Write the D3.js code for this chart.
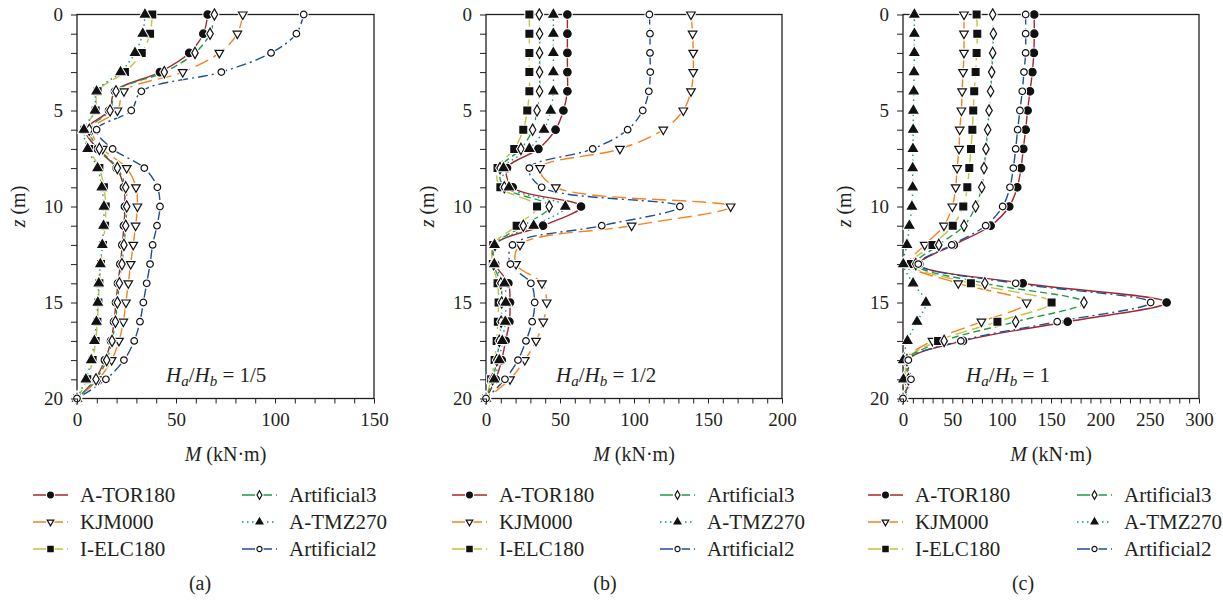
<!DOCTYPE html>
<html>
<head>
<meta charset="utf-8">
<script src="https://cdn.jsdelivr.net/npm/d3@7"></script>
<style>
  body { margin: 0; background: #fff; }
  svg text { font-family: "Liberation Serif", "DejaVu Serif", serif; fill: #231f20; }
</style>
</head>
<body>
<svg id="chart" width="1223" height="603" font-family="Liberation Serif"></svg>
<script>
// depth of each marker (m)
const depth = [0, 1, 2, 3, 4, 5, 6, 7, 8, 9, 10, 11, 12, 13, 14, 15, 16, 17, 18, 19, 20];

const seriesNames = ['A-TOR180', 'KJM000', 'I-ELC180', 'Artificial3', 'A-TMZ270', 'Artificial2'];

// panel (a) Ha/Hb = 1/5, bending moment M (kN·m)
const aTOR180_a = [66, 63.8, 56.7, 41.9, 19.2, 16.2, 4.5, 10.4, 20, 23.7, 24.2, 23.7, 22.9, 21.9, 20.7, 19.7, 18.7, 17.2, 14.1, 9.1, 0];
const kjm000_a = [83.7, 81, 71.9, 53.4, 23.7, 20.4, 7.4, 13, 25.1, 29.8, 30.5, 29.6, 28.4, 27.1, 25.9, 24.7, 23.4, 21.2, 17.5, 10.8, 0];
const iELC180_a = [38, 36.9, 32.7, 24.2, 10.4, 9.4, 3.7, 6.1, 11.3, 13.6, 14.5, 14.2, 13.1, 12.1, 11.3, 10.8, 10.3, 9.4, 7.9, 5.2, 0];
const artificial3_a = [69.4, 67.2, 59.6, 44.1, 19.7, 16.7, 6.2, 11.3, 20.4, 24.6, 25.1, 24.6, 23.7, 22.7, 21.4, 20.4, 19.4, 17.7, 15, 9.6, 0];
const aTMZ270_a = [34.3, 33.2, 29.3, 22, 9.9, 9.1, 3.5, 5.4, 10.4, 12.5, 13.6, 13.4, 12.8, 11.8, 11, 10.5, 9.8, 8.8, 7.2, 4.5, 0];
const artificial2_a = [114.5, 110.8, 98, 72.9, 32.5, 27.4, 9.9, 18, 34, 40.6, 41.9, 40.4, 38.2, 36.9, 35.2, 33.5, 31.8, 28.9, 23.7, 14.6, 0];

// panel (b) Ha/Hb = 1/2
const aTOR180_b = [55, 55, 55, 55, 55, 52.3, 47, 35.4, 14.2, 18, 64.2, 38.5, 5.8, 6.2, 15.1, 16.2, 15.8, 13.2, 10.6, 6.5, 0];
const kjm000_b = [138.5, 139.6, 140, 140, 138.5, 133.3, 119.8, 90.5, 36.5, 47.2, 165.3, 98.4, 23, 20.3, 37.8, 41, 38.7, 33.8, 26.2, 16.2, 0];
const iELC180_b = [29.3, 29.3, 29.3, 29.3, 29.3, 27.9, 25.2, 19.1, 7.8, 9.7, 34.5, 20.7, 4.9, 4.6, 7.8, 8.5, 8, 7.2, 5.8, 3.5, 0];
const artificial3_b = [36, 36.2, 36.2, 36.2, 36.2, 34.5, 31.5, 23.6, 9.5, 12.4, 42.7, 25.2, 6.1, 5.2, 10, 10.6, 10.2, 9, 7.3, 4.5, 0];
const aTMZ270_b = [45.5, 45.5, 45.5, 45.5, 45.5, 43.7, 39.2, 29.3, 11.8, 15.5, 53.6, 32.2, 5.8, 5.6, 12.5, 13.3, 13, 11, 9, 5.5, 0];
const artificial2_b = [110.4, 110.8, 110.8, 111, 110, 105.9, 95.7, 72.1, 29.3, 37.6, 131, 78.2, 17.9, 16.5, 30.3, 32.9, 31.2, 27, 21.6, 12.8, 0];

// panel (c) Ha/Hb = 1
const aTOR180_c = [133, 133, 132.6, 131.1, 128.7, 126.3, 124.3, 121.9, 119.6, 115.8, 107.7, 88.8, 51.5, 16.5, 121.3, 267.2, 166.9, 60.8, 5.4, 6.5, 0];
const kjm000_c = [61.8, 61.8, 61.8, 60.9, 59.9, 59.2, 57.5, 56.8, 54.8, 53.4, 50, 41.5, 22, 6, 56, 125.3, 79.5, 29.9, 2, 2.7, 0];
const iELC180_c = [74.6, 75.3, 74.6, 73.6, 72.2, 71.2, 70.3, 68.9, 67.2, 65.2, 61.1, 50.4, 29.9, 8, 68.8, 150.6, 95.7, 35.6, 3, 4, 0];
const artificial3_c = [90.9, 91.6, 90.9, 89.9, 88.8, 87.2, 85.8, 84.1, 82.1, 79.8, 73.6, 61.8, 36.3, 13, 83, 183.4, 114.2, 41.7, 4, 5.5, 0];
const aTMZ270_c = [11.5, 11.5, 11.5, 11.2, 10.9, 10.5, 10.3, 10.1, 9.8, 9.8, 9, 6.4, 4, 0.3, 10.2, 23.2, 14.2, 4.5, 0.3, 0.5, 0];
const artificial2_c = [124.3, 124.3, 124.3, 122.6, 120.9, 118.5, 116.2, 114.2, 111.8, 108.4, 101, 83.8, 49.4, 15.5, 114.2, 251, 156.3, 58.6, 5.4, 8.1, 0];

const xMax = [150, 200, 300];
const xMajor = [[0, 50, 100, 150], [0, 50, 100, 150, 200], [0, 50, 100, 150, 200, 250, 300]];
const zMajor = [0, 5, 10, 15, 20];
const ratioLabels = ['1/5', '1/2', '1'];
const captions = ['(a)', '(b)', '(c)'];

const panelData = [
  [aTOR180_a, kjm000_a, iELC180_a, artificial3_a, aTMZ270_a, artificial2_a],
  [aTOR180_b, kjm000_b, iELC180_b, artificial3_b, aTMZ270_b, artificial2_b],
  [aTOR180_c, kjm000_c, iELC180_c, artificial3_c, aTMZ270_c, artificial2_c]
];

const FONT = '"Liberation Serif", "DejaVu Serif", serif';

// look of each series
const styles = {
  'A-TOR180':    { color: '#a1282d', dash: null,         symbol: d3.symbolCircle,   size: 44, fill: '#111', rot: 0 },
  'KJM000':      { color: '#f5821f', dash: '14,6',       symbol: d3.symbolTriangle, size: 32, fill: '#fff', rot: 180 },
  'I-ELC180':    { color: '#c3c43c', dash: '12,5',       symbol: d3.symbolSquare,   size: 46, fill: '#111', rot: 0 },
  'Artificial3': { color: '#1e9a4b', dash: '7,4',        symbol: d3.symbolDiamond,  size: 36, fill: '#fff', rot: 0 },
  'A-TMZ270':    { color: '#178e8f', dash: '1.5,3.5',    symbol: d3.symbolTriangle, size: 34, fill: '#111', rot: 0 },
  'Artificial2': { color: '#1f4e96', dash: '10,4,2,4',   symbol: d3.symbolCircle,   size: 34, fill: '#fff', rot: 0 }
};

// placement of each panel
const layout = [
  { left: 77,  right: 374,  ratioX: 166, legendX: [33, 242],  captionX: 200 },
  { left: 486, right: 782,  ratioX: 556, legendX: [452, 660], captionX: 605 },
  { left: 903, right: 1199, ratioX: 966, legendX: [868, 1077], captionX: 1023 }
];
const plotTop = 14.5, plotBottom = 398.5;

const svg = d3.select('#chart');

function drawMarker(g, name, x, y, scale) {
  const st = styles[name];
  const sym = d3.symbol().type(st.symbol).size(st.size * scale);
  const tr = `translate(${x},${y}) rotate(${st.rot})`;
  g.append('path').attr('d', sym()).attr('transform', tr)
    .attr('fill', '#fff').attr('stroke', '#fff').attr('stroke-width', 3.2);
  g.append('path').attr('d', sym()).attr('transform', tr)
    .attr('fill', st.fill).attr('stroke', '#111').attr('stroke-width', 1.2);
}

layout.forEach((L, p) => {
  const g = svg.append('g');
  const x = d3.scaleLinear().domain([0, xMax[p]]).range([L.left, L.right]);
  const y = d3.scaleLinear().domain([0, 20]).range([plotTop, plotBottom]);

  // series lines
  const line = d3.line()
    .x(d => x(d[0]))
    .y(d => y(d[1]))
    .curve(d3.curveCatmullRom.alpha(0.5));

  const series = seriesNames.map((name, i) => ({
    name,
    pts: panelData[p][i].map((v, k) => [v, depth[k]])
  }));

  const clip = 'clip' + p;
  g.append('clipPath').attr('id', clip).append('rect')
    .attr('x', L.left).attr('y', plotTop - 1).attr('width', L.right - L.left).attr('height', plotBottom - plotTop + 2);

  series.forEach(s => {
    const st = styles[s.name];
    g.append('path')
      .attr('clip-path', `url(#${clip})`)
      .attr('d', line(s.pts))
      .attr('fill', 'none')
      .attr('stroke', st.color)
      .attr('stroke-width', 1.4)
      .attr('stroke-dasharray', st.dash);
  });

  // frame
  g.append('rect')
    .attr('x', L.left).attr('y', plotTop)
    .attr('width', L.right - L.left).attr('height', plotBottom - plotTop)
    .attr('fill', 'none').attr('stroke', '#231f20').attr('stroke-width', 1.3);

  // markers
  series.forEach(s => {
    s.pts.forEach(d => drawMarker(g, s.name, x(d[0]), y(d[1]), 1));
  });

  // axes
  const xAxis = d3.axisBottom(x)
    .tickValues(d3.range(0, xMax[p] + 1, 10))
    .tickSize(5)
    .tickFormat(v => xMajor[p].includes(v) ? v : '');
  const gx = g.append('g').attr('transform', `translate(0,${plotBottom})`).call(xAxis)
    .attr('font-family', FONT).attr('font-size', 19);
  gx.select('.domain').remove();
  gx.selectAll('line').attr('stroke', '#231f20').attr('stroke-width', 1);
  gx.selectAll('text').attr('dy', '1.0em').attr('fill', '#231f20');

  const yAxis = d3.axisLeft(y)
    .tickValues(depth)
    .tickSize(6)
    .tickFormat(v => zMajor.includes(v) ? v : '');
  const gy = g.append('g').attr('transform', `translate(${L.left},0)`).call(yAxis)
    .attr('font-family', FONT).attr('font-size', 19);
  gy.select('.domain').remove();
  gy.selectAll('line').attr('stroke', '#231f20').attr('stroke-width', 1);
  gy.selectAll('text').attr('x', -14).attr('dy', '0.34em').attr('fill', '#231f20');

  // axis titles
  const xt = g.append('text').attr('x', (L.left + L.right) / 2).attr('y', 461)
    .attr('text-anchor', 'middle').attr('font-size', 20);
  xt.append('tspan').attr('font-style', 'italic').text('M');
  xt.append('tspan').text(' (kN·m)');

  const yt = g.append('text')
    .attr('transform', `translate(${L.left - 52},${(plotTop + plotBottom) / 2}) rotate(-90)`)
    .attr('text-anchor', 'middle').attr('font-size', 20);
  yt.append('tspan').attr('font-style', 'italic').text('z');
  yt.append('tspan').text(' (m)');

  // Ha/Hb annotation
  const rt = g.append('text').attr('x', L.ratioX).attr('y', 382).attr('font-size', 21);
  rt.append('tspan').attr('font-style', 'italic').text('H');
  rt.append('tspan').attr('font-style', 'italic').attr('font-size', 15).attr('dy', 4).text('a');
  rt.append('tspan').attr('dy', -4).text('/');
  rt.append('tspan').attr('font-style', 'italic').text('H');
  rt.append('tspan').attr('font-style', 'italic').attr('font-size', 15).attr('dy', 4).text('b');
  rt.append('tspan').attr('dy', -4).text(' = ' + ratioLabels[p]);

  // legend
  const rowY = [495, 522, 549];
  seriesNames.forEach((name, i) => {
    const col = Math.floor(i / 3), row = i % 3;
    const lx = L.legendX[col], ly = rowY[row];
    const st = styles[name];
    g.append('line')
      .attr('x1', lx).attr('x2', lx + 35).attr('y1', ly).attr('y2', ly)
      .attr('stroke', st.color).attr('stroke-width', 1.4)
      .attr('stroke-dasharray', st.dash ? (name === 'A-TMZ270' ? st.dash : '13,4') : null);
    drawMarker(g, name, lx + 17.5, ly, 0.6);
    g.append('text').attr('x', lx + 47).attr('y', ly + 7).attr('font-size', 21).text(name);
  });

  g.append('text').attr('x', L.captionX).attr('y', 590)
    .attr('text-anchor', 'middle').attr('font-size', 20).text(captions[p]);
});
</script>
</body>
</html>
